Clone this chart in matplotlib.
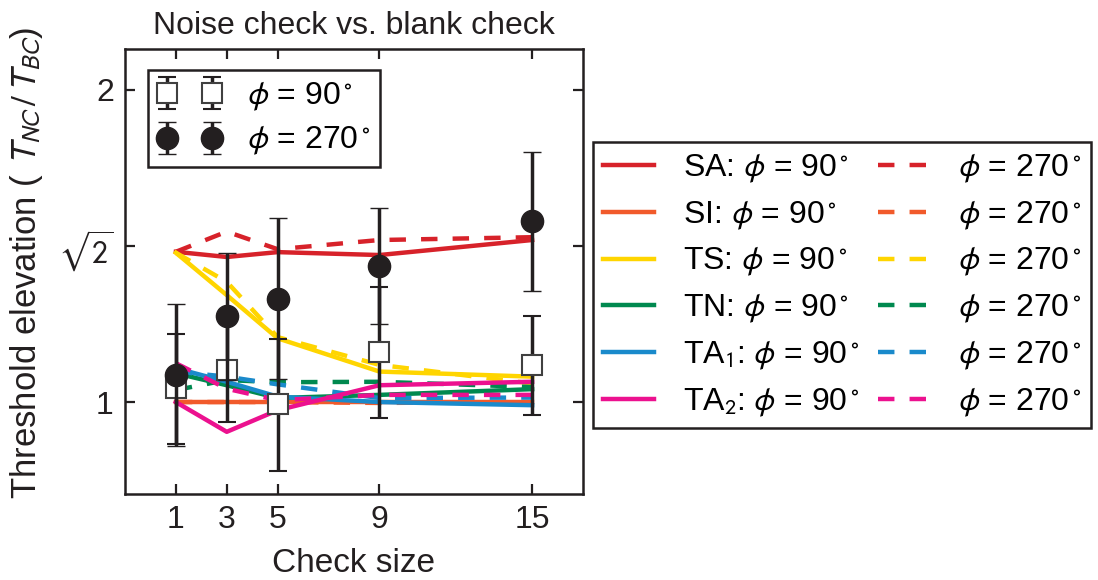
import numpy as np
import matplotlib
matplotlib.use("Agg")
import matplotlib.pyplot as plt
from matplotlib.ticker import FixedLocator, FixedFormatter, NullLocator

plt.rcParams['font.family'] = ['Liberation Sans', 'DejaVu Sans']
plt.rcParams['mathtext.fontset'] = 'stixsans'

# --- data ---
CHECK_SIZES = [1, 3, 5, 9, 15]

MODELS = ['SA', 'SI', 'TS', 'TN', 'TA$_1$', 'TA$_2$']
COLORS = ['#d7222a', '#f15a2b', '#ffd500', '#00894f', '#1a8acb', '#ec118f']

MODEL_90 = [
    [1.396, 1.380, 1.395, 1.386, 1.433],   # SA
    [1.000, 1.000, 1.000, 1.000, 1.000],   # SI
    [1.393, 1.268, 1.152, 1.070, 1.058],   # TS
    [1.066, 1.038, 1.009, 1.016, 1.029],   # TN
    [1.078, 1.046, 1.012, 1.000, 0.993],   # TA1
    [1.000, 0.936, 0.982, 1.038, 1.046],   # TA2
]
MODEL_270 = [
    [1.396, 1.460, 1.404, 1.433, 1.442],
    [1.000, 1.000, 1.000, 0.998, 1.000],
    [1.393, 1.306, 1.155, 1.086, 1.042],
    [1.027, 1.050, 1.045, 1.046, 1.034],
    [1.070, 1.058, 1.040, 1.009, 1.010],
    [1.090, 1.030, 1.004, 1.016, 1.016],
]

OBS_90 = [1.032, 1.074, 0.995, 1.117, 1.086]
OBS_90_LO = [0.912, 0.957, 0.858, 0.965, 0.971]
OBS_90_HI = [1.163, 1.205, 1.150, 1.291, 1.210]

OBS_270 = [1.062, 1.210, 1.258, 1.353, 1.495]
OBS_270_LO = [0.907, 1.050, 1.052, 1.189, 1.280]
OBS_270_HI = [1.243, 1.393, 1.504, 1.538, 1.743]

Y_TICKS = [1, np.sqrt(2), 2]
Y_TICKLABELS = ['1', r'$\sqrt{2}$', '2']

INK = '#231f20'
FS = 23

fig = plt.figure(figsize=(10.98, 5.8), dpi=100)
ax = fig.add_axes([0.1138, 0.148, 0.4172, 0.7675])

# model curves
solid, dashed = [], []
for name, col, v90, v270 in zip(MODELS, COLORS, MODEL_90, MODEL_270):
    l1, = ax.plot(CHECK_SIZES, v90, color=col, lw=3.2, zorder=2,
                  label=name + r': $\phi$ = 90$^\circ$')
    l2, = ax.plot(CHECK_SIZES, v270, color=col, lw=3.2, zorder=2,
                  dashes=(3.7, 3.4), label=r'$\phi$ = 270$^\circ$')
    solid.append(l1)
    dashed.append(l2)

# observers
def err(c, lo, hi):
    c = np.array(c)
    return [c - np.array(lo), np.array(hi) - c]

e90 = ax.errorbar(CHECK_SIZES, OBS_90, yerr=err(OBS_90, OBS_90_LO, OBS_90_HI),
                  fmt='s', ms=15, mfc='white', mec='#404040', mew=1.5,
                  ecolor=INK, elinewidth=2.5, capsize=6.5, capthick=2.5, zorder=4,
                  label=r'$\phi$ = 90$^\circ$')
e270 = ax.errorbar(CHECK_SIZES, OBS_270, yerr=err(OBS_270, OBS_270_LO, OBS_270_HI),
                   fmt='o', ms=16, mfc=INK, mec=INK, mew=1,
                   ecolor=INK, elinewidth=2.5, capsize=6.5, capthick=2.5, zorder=5,
                   label=r'$\phi$ = 270$^\circ$')

ax.set_yscale('log', base=2)
ax.set_ylim(0.815, 2.19)
ax.set_xlim(-1, 17)
ax.yaxis.set_major_locator(FixedLocator(Y_TICKS))
ax.yaxis.set_major_formatter(FixedFormatter(Y_TICKLABELS))
ax.yaxis.set_minor_locator(NullLocator())
ax.set_xticks(CHECK_SIZES)
ax.tick_params(direction='in', length=7, width=1.6, labelsize=FS, pad=8,
               top=True, right=True, colors=INK)
for sp in ax.spines.values():
    sp.set_linewidth(1.8)
    sp.set_color(INK)

ax.set_title('Noise check vs. blank check', fontsize=FS, pad=11, color=INK)
ax.set_xlabel('Check size', fontsize=24, color=INK, labelpad=9)
ax.set_ylabel(r'Threshold elevation ( $T_{NC}\,/\,T_{BC}$)', fontsize=25, color=INK)
ax.yaxis.set_label_coords(-0.175, 0.52)

leg1 = ax.legend(handles=[e90, e270], loc='upper left', bbox_to_anchor=(0.05, 0.953),
                 borderaxespad=0, numpoints=2, fontsize=FS, handlelength=2.0,
                 handletextpad=0.8, borderpad=0.3, labelspacing=0.35,
                 fancybox=False, edgecolor=INK, framealpha=1)
leg1.get_frame().set_linewidth(1.8)
ax.add_artist(leg1)

leg2 = ax.legend(handles=solid + dashed, loc='upper left', bbox_to_anchor=(1.022, 0.791),
                 borderaxespad=0, ncol=2, fontsize=FS, handlelength=1.6,
                 handletextpad=0.9, columnspacing=0.6, borderpad=0.3,
                 labelspacing=0.42, fancybox=False, edgecolor=INK, framealpha=1)
leg2.get_frame().set_linewidth(1.8)

fig.savefig('out.png', dpi=100)
